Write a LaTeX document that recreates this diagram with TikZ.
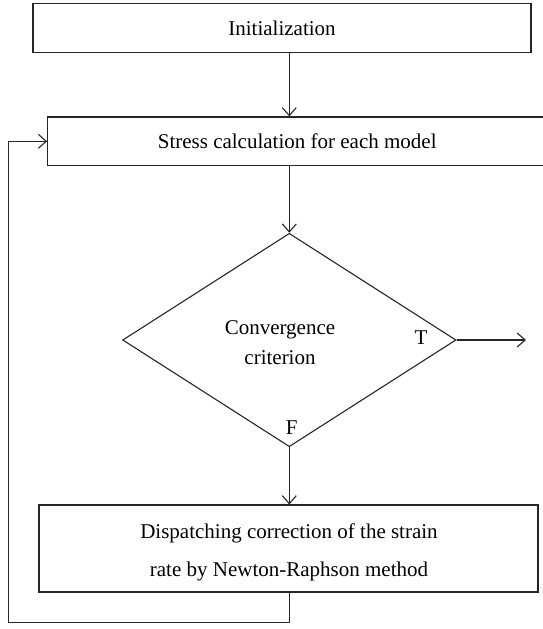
\documentclass[tikz,border=0pt]{standalone}
\usepackage{fontspec}
\setmainfont{Liberation Serif}
\usetikzlibrary{shapes.geometric,arrows.meta}
\begin{document}
\begin{tikzpicture}[x=1pt,y=-1pt,
  every node/.style={font=\fontsize{21}{38}\selectfont},
  line/.style={draw=black!85,line width=1.1pt},
  procbox/.style={line,rectangle,inner sep=0pt,minimum width=499pt},
  arr/.style={line,-{Straight Barb[length=8pt,width=14pt,line width=1.1pt]}},
  lbl/.style={inner sep=0pt}]
\clip (0,0) rectangle (543,629);
\fill[white] (0,0) rectangle (543,629);
\node[procbox,minimum width=498pt,minimum height=49.4pt] (init) at (282,28) {Initialization};
\node[procbox,minimum height=48.7pt] (stress) at (297.2,141.3) {Stress calculation for each model};
\node[line,diamond,inner sep=0pt,aspect=1.5625,minimum width=333.4pt,minimum height=213.4pt] (dec) at (289.3,340) {};
\node[lbl,align=center,font=\fontsize{21}{30}\selectfont] (dectext) at (280,342.7) {Convergence\\criterion};
\node[lbl] (t) at (421,338) {T};
\node[lbl] (f) at (291.7,428) {F};
\node[procbox,minimum height=87pt] (disp) at (288.5,548.5) {};
\node[lbl,align=center] (disptext) at (289,552) {Dispatching correction of the strain\\rate by Newton-Raphson method};
\coordinate (out) at (526,340);
\coordinate (loopc) at (8.7,622.7);
\draw[arr] (init.south -| dec.north) -- (stress.north -| dec.north);
\draw[arr] (stress.south -| dec.north) -- (dec.north);
\draw[arr] (dec.east) -- (out);
\draw[arr] (dec.south) -- (dec.south |- disp.north);
\draw[arr] (disp.south -| dec.south) |- (loopc) |- (stress.west);
\end{tikzpicture}
\end{document}
